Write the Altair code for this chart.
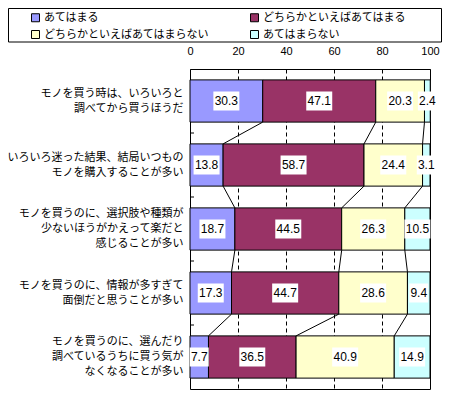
import altair as alt
import pandas as pd

categories = [
    "モノを買う時は、いろいろと|調べてから買うほうだ",
    "いろいろ迷った結果、結局いつもの|モノを購入することが多い",
    "モノを買うのに、選択肢や種類が|少ないほうがかえって楽だと|感じることが多い",
    "モノを買うのに、情報が多すぎて|面倒だと思うことが多い",
    "モノを買うのに、選んだり|調べているうちに買う気が|なくなることが多い",
]
responses = ["あてはまる", "どちらかといえばあてはまる", "どちらかといえばあてはまらない", "あてはまらない"]
colors = ["#9999FF", "#993366", "#FFFFCC", "#CCFFFF"]

v_atehamaru = [30.3, 13.8, 18.7, 17.3, 7.7]
v_dochira_ate = [47.1, 58.7, 44.5, 44.7, 36.5]
v_dochira_nai = [20.3, 24.4, 26.3, 28.6, 40.9]
v_atehamaranai = [2.4, 3.1, 10.5, 9.4, 14.9]
x_ticks = [0, 20, 40, 60, 80, 100]

series = [v_atehamaru, v_dochira_ate, v_dochira_nai, v_atehamaranai]

rows = []
for ci, cat in enumerate(categories):
    cum = 0.0
    for ri, resp in enumerate(responses):
        v = series[ri][ci]
        rows.append(dict(cat=cat, resp=resp, ri=ri, value=v, start=cum, end=cum + v,
                         mid=cum + v / 2, label=f"{v:.1f}"))
        cum += v
df = pd.DataFrame(rows)

conn = []
for ci in range(len(categories) - 1):
    c1 = c2 = 0.0
    for ri in range(3):
        c1 += series[ri][ci]
        c2 += series[ri][ci + 1]
        conn.append(dict(cat_a=categories[ci], cat_b=categories[ci + 1], xa=c1, xb=c2))
conn_df = pd.DataFrame(conn)
tick_df = pd.DataFrame({"cat": categories[1:]})

W, H = 240, 320
STEP = H / len(categories)
BAND_HALF = STEP * 0.66 / 2
LH = 15

x_scale = alt.Scale(domain=[0, 100], nice=False, zero=True)
y_scale = alt.Scale(domain=categories, paddingInner=0.34, paddingOuter=0.17)

x_axis = alt.Axis(orient="top", values=x_ticks, grid=True, gridColor="black", gridDash=[4, 3],
                  gridWidth=1, ticks=False, tickSize=0, domain=False, labelPadding=13,
                  labelFlush=False, labelFont="Liberation Sans", labelFontSize=11,
                  labelColor="black", title=None)
y_axis = alt.Axis(title=None, ticks=False, tickSize=0, domain=False, labelPadding=7,
                  labelExpr="split(datum.label, '|')", labelFont="Noto Sans CJK JP",
                  labelFontSize=11, labelColor="black", labelLineHeight=LH, labelLimit=300,
                  labelOffset={"condition": {"test": "indexof(datum.label, '|') != lastindexof(datum.label, '|')",
                                             "value": -LH},
                               "value": -LH / 2})


def xq(field):
    return alt.X(field, type="quantitative", scale=x_scale, axis=x_axis)


def yn(field):
    return alt.Y(field, type="nominal", scale=y_scale, sort=categories, axis=y_axis)


base = alt.Chart(df)

bars = base.mark_bar(stroke="black", strokeWidth=1).encode(
    x=xq("start"),
    x2="end",
    y=yn("cat"),
    color=alt.Color("resp:N", scale=alt.Scale(domain=responses, range=colors),
                    legend=alt.Legend(title=None, orient="none", legendX=-160, legendY=-57,
                                      direction="horizontal", columns=2, columnPadding=39,
                                      rowPadding=4, symbolType="square", symbolSize=64,
                                      symbolStrokeColor="black", symbolStrokeWidth=1,
                                      labelFont="Noto Sans CJK JP", labelFontSize=11,
                                      labelColor="black", labelOffset=3, padding=0,
                                      labelLimit=300)),
)

box_long = base.transform_filter("length(datum.label) > 3").mark_point(
    shape="M-1,-0.731L1,-0.731L1,0.731L-1,0.731Z", filled=True, color="white",
    opacity=1, size=676, strokeWidth=0
).encode(x=xq("mid"), y=yn("cat"))

box_short = base.transform_filter("length(datum.label) <= 3").mark_point(
    shape="square", filled=True, color="white", opacity=1, size=361, strokeWidth=0
).encode(x=xq("mid"), y=yn("cat"))

texts = base.mark_text(font="Liberation Sans", fontSize=12, color="black").encode(
    x=xq("mid"), y=yn("cat"), text="label:N"
)

connectors = alt.Chart(conn_df).mark_rule(
    color="black", strokeWidth=1, yOffset=BAND_HALF, y2Offset=-BAND_HALF
).encode(x=xq("xa"), x2=alt.X2("xb"), y=yn("cat_a"), y2=alt.Y2("cat_b"))

ticks = alt.Chart(tick_df).mark_rule(color="black", strokeWidth=1, yOffset=-STEP / 2).encode(
    x=alt.value(0), x2=alt.value(4), y=yn("cat")
)

legend_box = alt.Chart(pd.DataFrame({"a": [0]})).mark_rect(
    fill="transparent", stroke="black", strokeWidth=1
).encode(x=alt.value(-181.5), x2=alt.value(251.5), y=alt.value(-60.5), y2=alt.value(-27))

chart = alt.layer(bars, box_long, box_short, texts, connectors, ticks, legend_box).properties(
    width=W, height=H,
    autosize=alt.AutoSizeParams(type="none"),
    padding={"left": 182, "top": 61, "right": 12, "bottom": 1},
).configure_view(stroke="black", strokeWidth=1)

chart.save("out.html", embed_options={"renderer": "svg", "actions": False})
